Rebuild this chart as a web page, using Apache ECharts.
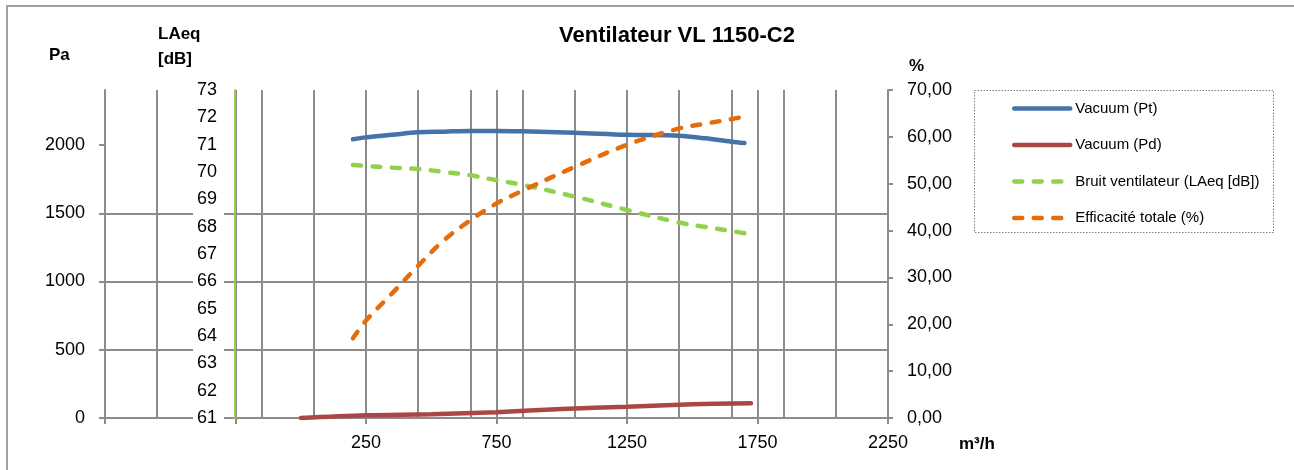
<!DOCTYPE html>
<html>
<head>
<meta charset="utf-8">
<script src="https://cdn.jsdelivr.net/npm/echarts@6/dist/echarts.min.js"></script>
<style>
html, body { margin: 0; padding: 0; background: #fff; }
#chart { width: 1294px; height: 470px; }
</style>
</head>
<body>
<div id="chart"></div>
<script>
// débit (m3/h) et valeurs
var flow = [200, 250, 350, 450, 550, 650, 750, 850, 1050, 1250, 1450, 1550, 1650, 1700];
var vacuumPt = [2042, 2056, 2075, 2093, 2098, 2103, 2103, 2100, 2090, 2075, 2068, 2049, 2024, 2015];
var bruit = [70.26, 70.22, 70.16, 70.11, 70.0, 69.88, 69.70, 69.53, 69.10, 68.61, 68.15, 67.99, 67.84, 67.76];
var efficacite = [17.0, 20.8, 26.6, 32.5, 38.0, 42.2, 45.8, 48.5, 53.6, 58.3, 61.8, 62.8, 63.8, 64.3];

var flowPd = [0, 250, 500, 750, 1000, 1250, 1500, 1725];
var vacuumPd = [0, 20, 28, 43, 66, 83, 100, 108];

// axes
var flowTicks = [-750, -250, 250, 750, 1250, 1750, 2250];
var flowLabels = [250, 750, 1250, 1750, 2250];
var paTicks = [0, 500, 1000, 1500, 2000];

var axisGray = '#8c8c8c';
var myChart = echarts.init(document.getElementById('chart'));

function pairs(xs, ys) {
    var out = [];
    for (var i = 0; i < xs.length; i++) {
        out.push([xs[i], ys[i]]);
    }
    return out;
}

function plain(v) {
    return String(v);
}

function lineSerie(name, color, yIndex, xs, ys, dashed) {
    return {
        name: name,
        type: 'line',
        xAxisIndex: 0,
        yAxisIndex: yIndex,
        data: pairs(xs, ys),
        smooth: 0.35,
        symbol: 'none',
        itemStyle: { color: color },
        lineStyle: {
            color: color,
            width: 4.5,
            cap: 'round',
            type: dashed ? [8, 11.5] : 'solid'
        }
    };
}

function gridAxis(interval) {
    return {
        type: 'value',
        position: 'top',
        min: 0,
        max: 3000,
        interval: interval,
        axisLine: { show: false },
        axisTick: { show: false },
        axisLabel: { show: false },
        splitLine: { show: true, lineStyle: { color: axisGray, width: 2 } }
    };
}

var nameStyle = { fontSize: 17, fontWeight: 'bold', color: '#000' };

var option = {
    backgroundColor: '#fff',
    animation: false,
    textStyle: { fontFamily: 'Liberation Sans, Arial, sans-serif' },
    title: [
        { text: 'Ventilateur VL 1150-C2', left: 677, top: 25, textAlign: 'center', padding: 0,
          textStyle: { fontSize: 22, fontWeight: 'bold', color: '#000' } },
        { text: 'Pa', left: 49, top: 47, padding: 0, textStyle: nameStyle },
        { text: 'LAeq\n[dB]', left: 158, top: 22, padding: 0,
          textStyle: { fontSize: 17, fontWeight: 'bold', color: '#000', lineHeight: 25 } },
        { text: '%', left: 909, top: 58, padding: 0, textStyle: nameStyle },
        { text: 'm³/h', left: 959, top: 436, padding: 0, textStyle: nameStyle }
    ],
    legend: {
        orient: 'vertical',
        left: 1012,
        top: 101,
        padding: 0,
        itemWidth: 56,
        itemHeight: 14,
        itemGap: 21.5,
        itemStyle: { opacity: 0 },
        lineStyle: { width: 4.5, cap: 'round' },
        textStyle: { fontSize: 15, color: '#000', lineHeight: 14 },
        data: ['Vacuum (Pt)', 'Vacuum (Pd)', 'Bruit ventilateur (LAeq [dB])', 'Efficacité totale (%)']
    },
    grid: { left: 105, right: 406, top: 90, bottom: 52, containLabel: false, outerBoundsMode: 'none' },
    xAxis: [
        {
            type: 'value',
            position: 'bottom',
            min: -750,
            max: 2250,
            axisLine: { show: true, onZero: false, lineStyle: { color: axisGray, width: 2 } },
            axisTick: { show: true, length: 6, customValues: flowTicks, lineStyle: { color: axisGray, width: 2 } },
            axisLabel: { customValues: flowLabels, fontSize: 18, color: '#000', margin: 16, formatter: plain },
            splitLine: { show: false }
        },
        gridAxis(200),
        gridAxis(500)
    ],
    yAxis: [
        {
            type: 'value',
            position: 'left',
            min: 0,
            max: 2403,
            interval: 500,
            axisLine: { show: true, onZero: false, lineStyle: { color: axisGray, width: 2 } },
            axisTick: { show: true, length: 6, customValues: paTicks, lineStyle: { color: axisGray, width: 2 } },
            axisLabel: { customValues: paTicks, fontSize: 18, color: '#000', margin: 20, formatter: plain },
            splitLine: { show: true, showMaxLine: false, lineStyle: { color: axisGray, width: 2 } }
        },
        {
            type: 'value',
            position: 'left',
            offset: -130,
            min: 61,
            max: 73,
            interval: 1,
            z: 5,
            axisLine: { show: true, onZero: false, lineStyle: { color: '#92D050', width: 2 } },
            axisTick: { show: false },
            axisLabel: { fontSize: 18, color: '#000', margin: 18, formatter: plain },
            splitLine: { show: false }
        },
        {
            type: 'value',
            position: 'right',
            min: 0,
            max: 70,
            interval: 10,
            axisLine: { show: true, onZero: false, lineStyle: { color: axisGray, width: 2 } },
            axisTick: { show: true, length: 5, lineStyle: { color: axisGray, width: 2 } },
            axisLabel: {
                fontSize: 18, color: '#000', margin: 19,
                formatter: function (v) { return v.toFixed(2).replace('.', ','); }
            },
            splitLine: { show: false }
        }
    ],
    graphic: [
        { type: 'rect', z: 1, silent: true, shape: { x: 193, y: 88, width: 31, height: 334 }, style: { fill: '#fff' } },
        { type: 'rect', silent: true, shape: { x: 974.5, y: 90.5, width: 299, height: 142 },
          style: { fill: 'none', stroke: '#7f7f7f', lineWidth: 1, lineDash: [1.5, 1.5] } },
        { type: 'rect', silent: true, shape: { x: 7, y: 6, width: 1300, height: 480 },
          style: { fill: 'none', stroke: '#a0a0a0', lineWidth: 2 } }
    ],
    series: [
        lineSerie('Vacuum (Pt)', '#4572A7', 0, flow, vacuumPt, false),
        lineSerie('Vacuum (Pd)', '#AA4643', 0, flowPd, vacuumPd, false),
        lineSerie('Bruit ventilateur (LAeq [dB])', '#92D050', 1, flow, bruit, true),
        lineSerie('Efficacité totale (%)', '#E46C0A', 2, flow, efficacite, true)
    ]
};

myChart.setOption(option);
</script>
</body>
</html>
